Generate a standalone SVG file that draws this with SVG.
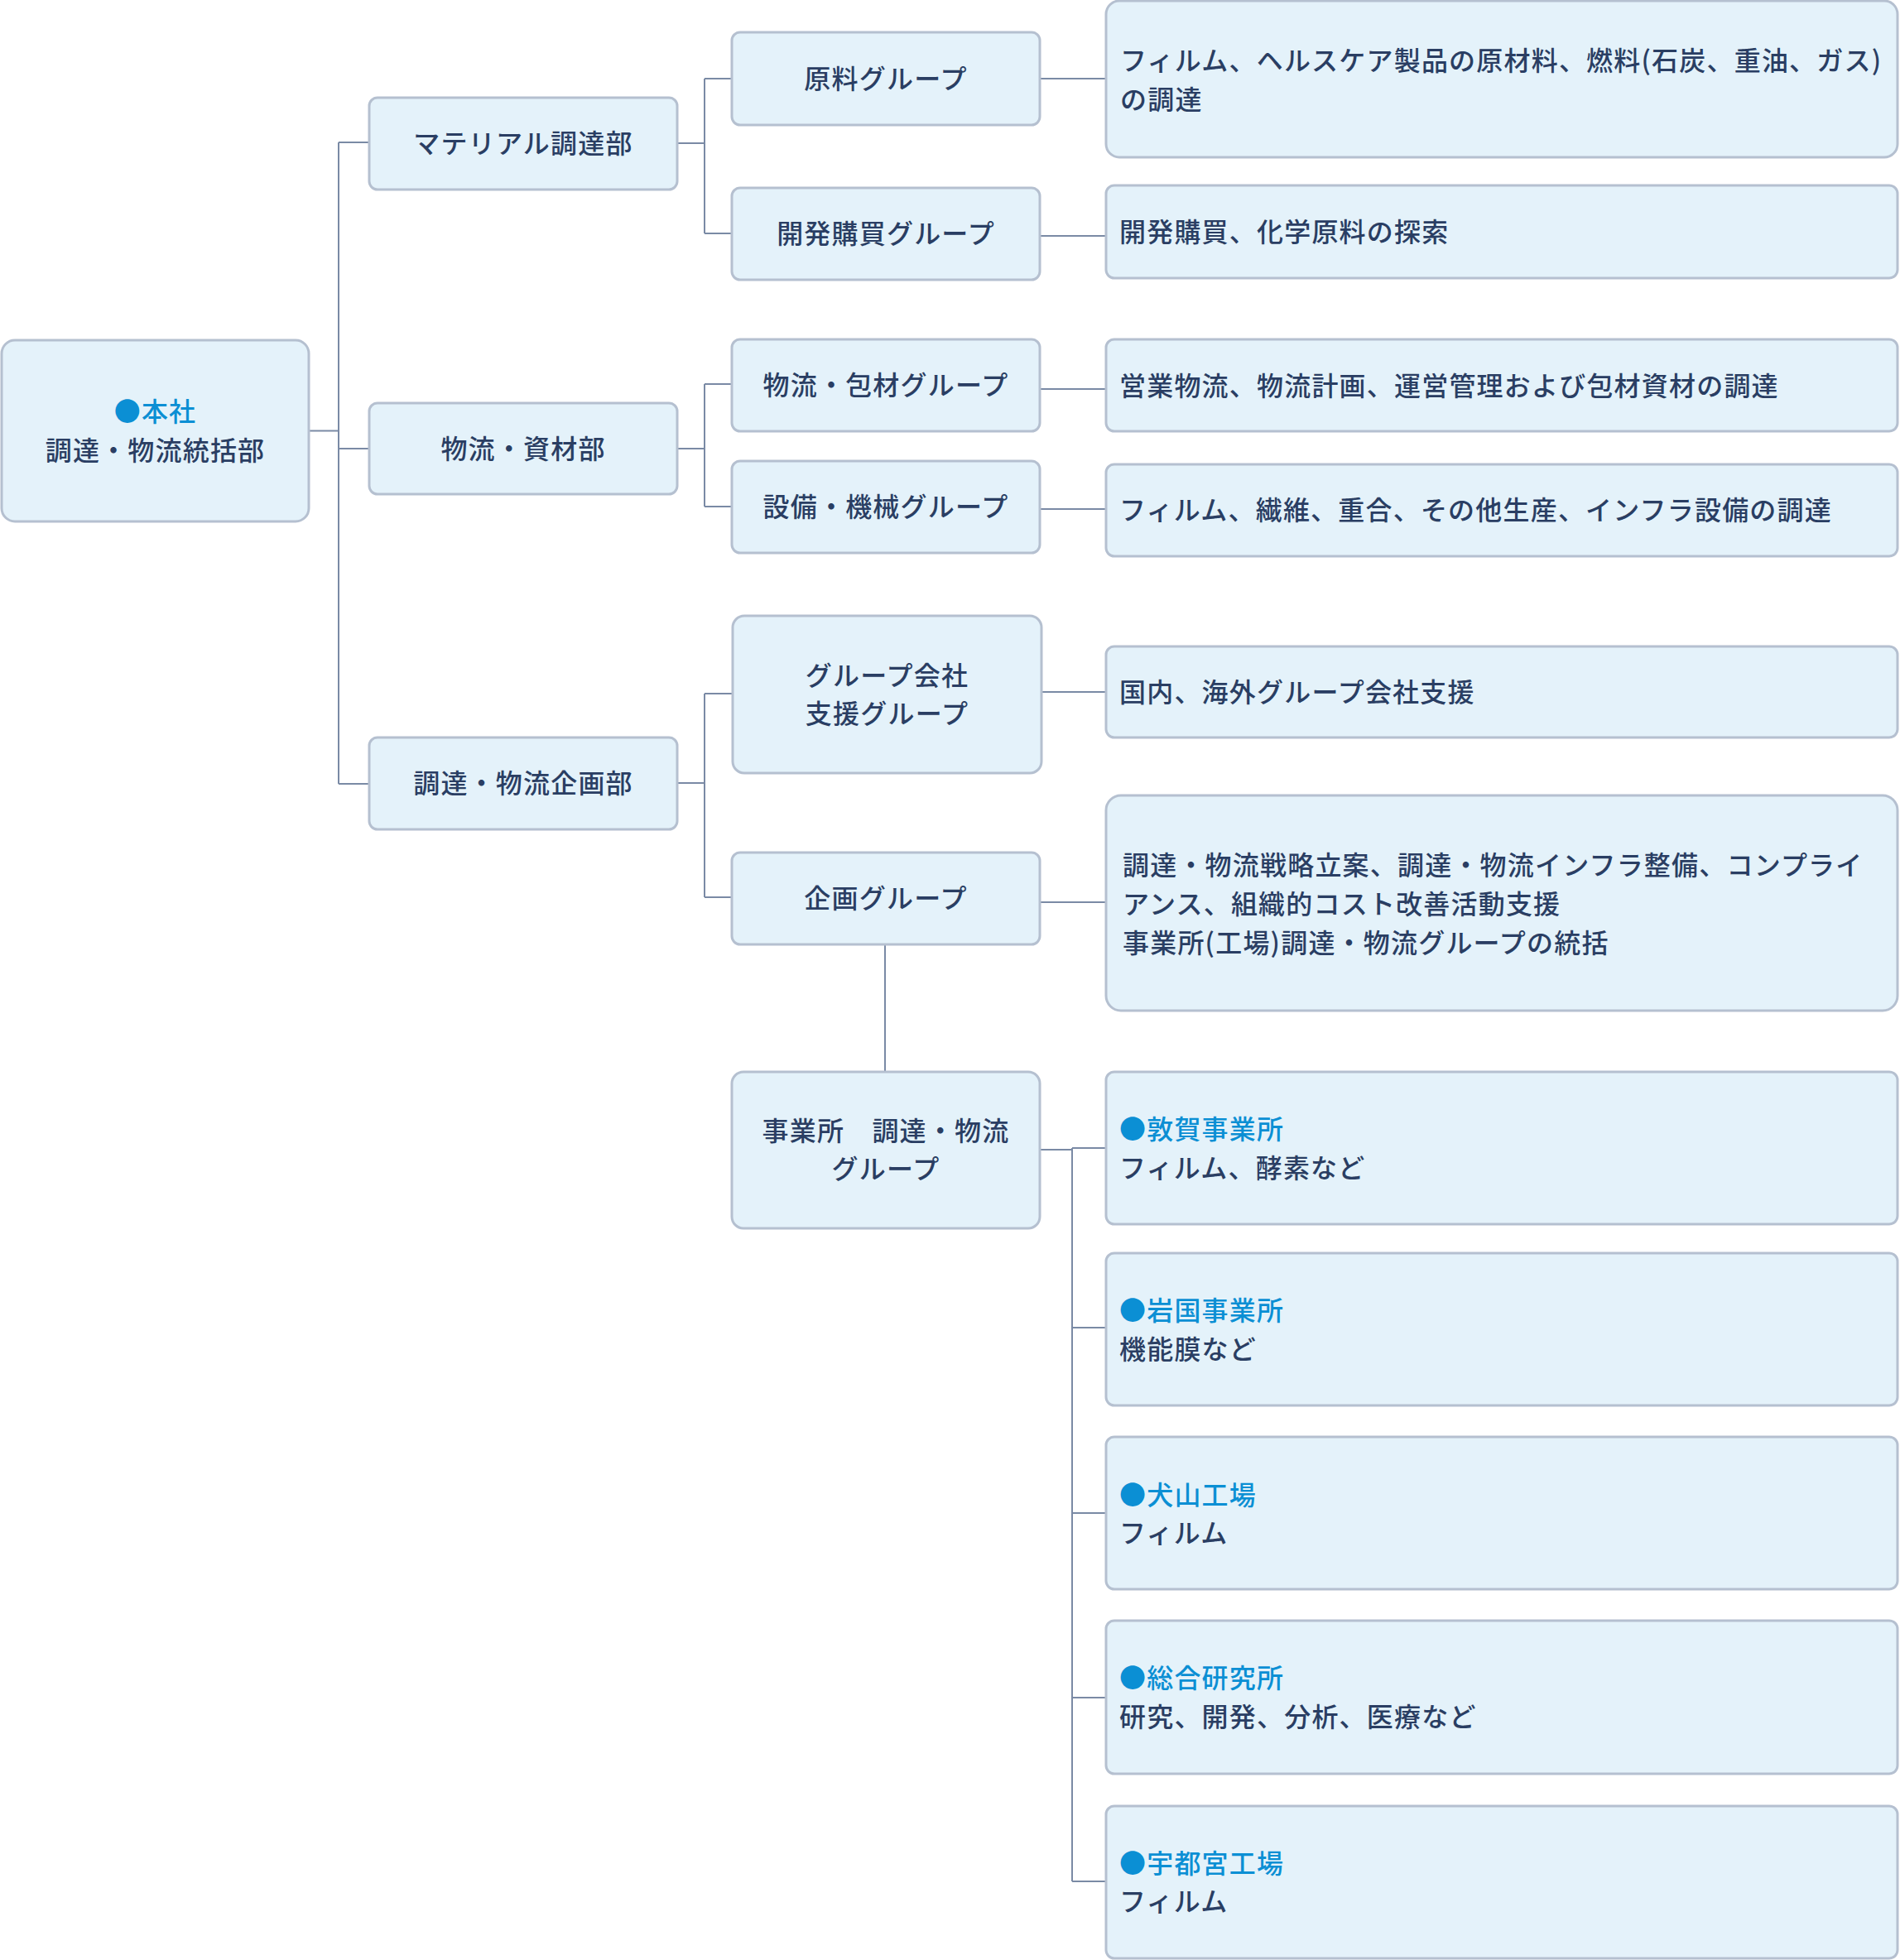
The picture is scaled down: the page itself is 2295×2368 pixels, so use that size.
<svg xmlns="http://www.w3.org/2000/svg" width="2295" height="2368" viewBox="0 0 2295 2368">
<style>
.box{fill:#e4f2fa;stroke:#b5c0d0;stroke-width:3}
.c{fill:none;stroke:#7a8aa5;stroke-width:2}
text{font-family:"Noto Sans CJK JP","Noto Sans CJK SC",sans-serif;font-size:32px;font-weight:500;fill:#2a3e63;letter-spacing:1.2px;dominant-baseline:central}
.m{text-anchor:middle}
.b{fill:#0b8fd4}
</style>
<rect width="2295" height="2368" fill="#ffffff"/>
<g id="connectors">
<path class="c" d="M373 520.5H409M409 172V947M409 172H446M409 542H446M409 947H446"/>
<path class="c" d="M818 173H851M851 95V282M851 95H884M851 282H884"/>
<path class="c" d="M818 542H851M851 464V612M851 464H884M851 612H884"/>
<path class="c" d="M818 946H851M851 838V1084M851 838H885M851 1084H884"/>
<path class="c" d="M1256 95H1336M1256 285H1336M1256 470H1336M1256 615H1336M1258 836H1336M1256 1090H1336"/>
<path class="c" d="M1069 1141V1295"/>
<path class="c" d="M1256 1389H1295M1295 1387V2273M1295 1387H1336M1295 1604H1336M1295 1828H1336M1295 2051H1336M1295 2273H1336"/>
</g>
<g id="root"><rect class="box" x="2" y="411" width="371" height="219" rx="16"/><text class="m b" x="187.5" y="495">●本社</text><text class="m" x="187.5" y="542">調達・物流統括部</text></g>
<g id="material"><rect class="box" x="446" y="118" width="372" height="111" rx="10"/><text class="m" x="632" y="171">マテリアル調達部</text></g>
<g id="butsuryu"><rect class="box" x="446" y="487" width="372" height="110" rx="10"/><text class="m" x="632" y="539.5">物流・資材部</text></g>
<g id="kikakubu"><rect class="box" x="446" y="891" width="372" height="111" rx="10"/><text class="m" x="632" y="944">調達・物流企画部</text></g>
<g id="genryo"><rect class="box" x="884" y="39" width="372" height="112" rx="10"/><text class="m" x="1070" y="92.5">原料グループ</text></g>
<g id="kaihatsu"><rect class="box" x="884" y="227" width="372" height="111" rx="10"/><text class="m" x="1070" y="280">開発購買グループ</text></g>
<g id="housou"><rect class="box" x="884" y="410" width="372" height="111" rx="10"/><text class="m" x="1070" y="463">物流・包材グループ</text></g>
<g id="setsubi"><rect class="box" x="884" y="557" width="372" height="111" rx="10"/><text class="m" x="1070" y="610">設備・機械グループ</text></g>
<g id="shien"><rect class="box" x="885" y="744" width="373" height="190" rx="14"/><text class="m" x="1071.5" y="814">グループ会社</text><text class="m" x="1071.5" y="860">支援グループ</text></g>
<g id="kikaku"><rect class="box" x="884" y="1030" width="372" height="111" rx="10"/><text class="m" x="1070" y="1083">企画グループ</text></g>
<g id="jigyosho"><rect class="box" x="884" y="1295" width="372" height="189" rx="14"/><text class="m" x="1070" y="1363.5">事業所　調達・物流</text><text class="m" x="1070" y="1409.5">グループ</text></g>
<g id="d1"><rect class="box" x="1336" y="1" width="956" height="189" rx="16"/><text x="1353" y="70.5">フィルム、ヘルスケア製品の原材料、燃料(石炭、重油、ガス)</text><text x="1353" y="117.5">の調達</text></g>
<g id="d2"><rect class="box" x="1336" y="224" width="956" height="112" rx="10"/><text x="1352" y="278">開発購買、化学原料の探索</text></g>
<g id="d3"><rect class="box" x="1336" y="410" width="956" height="111" rx="10"/><text x="1352" y="463.5">営業物流、物流計画、運営管理および包材資材の調達</text></g>
<g id="d4"><rect class="box" x="1336" y="561" width="956" height="111" rx="10"/><text x="1352" y="614">フィルム、繊維、重合、その他生産、インフラ設備の調達</text></g>
<g id="d5"><rect class="box" x="1336" y="781" width="956" height="110" rx="10"/><text x="1352" y="833.5">国内、海外グループ会社支援</text></g>
<g id="d6"><rect class="box" x="1336" y="961" width="956" height="260" rx="18"/><text x="1356" y="1042.5">調達・物流戦略立案、調達・物流インフラ整備、コンプライ</text><text x="1356" y="1089.5">アンス、組織的コスト改善活動支援</text><text x="1356" y="1136.5">事業所(工場)調達・物流グループの統括</text></g>
<g id="tsuruga"><rect class="box" x="1336" y="1295" width="956" height="184" rx="10"/><text class="b" x="1352" y="1361.5">●敦賀事業所</text><text x="1352" y="1408.5">フィルム、酵素など</text></g>
<g id="iwakuni"><rect class="box" x="1336" y="1514" width="956" height="184" rx="10"/><text class="b" x="1352" y="1580.5">●岩国事業所</text><text x="1352" y="1627.5">機能膜など</text></g>
<g id="inuyama"><rect class="box" x="1336" y="1736" width="956" height="184" rx="10"/><text class="b" x="1352" y="1803.5">●犬山工場</text><text x="1352" y="1849.5">フィルム</text></g>
<g id="souken"><rect class="box" x="1336" y="1958" width="956" height="185" rx="10"/><text class="b" x="1352" y="2024.5">●総合研究所</text><text x="1352" y="2071.5">研究、開発、分析、医療など</text></g>
<g id="utsunomiya"><rect class="box" x="1336" y="2182" width="956" height="184" rx="10"/><text class="b" x="1352" y="2248.5">●宇都宮工場</text><text x="1352" y="2294.5">フィルム</text></g>
</svg>
